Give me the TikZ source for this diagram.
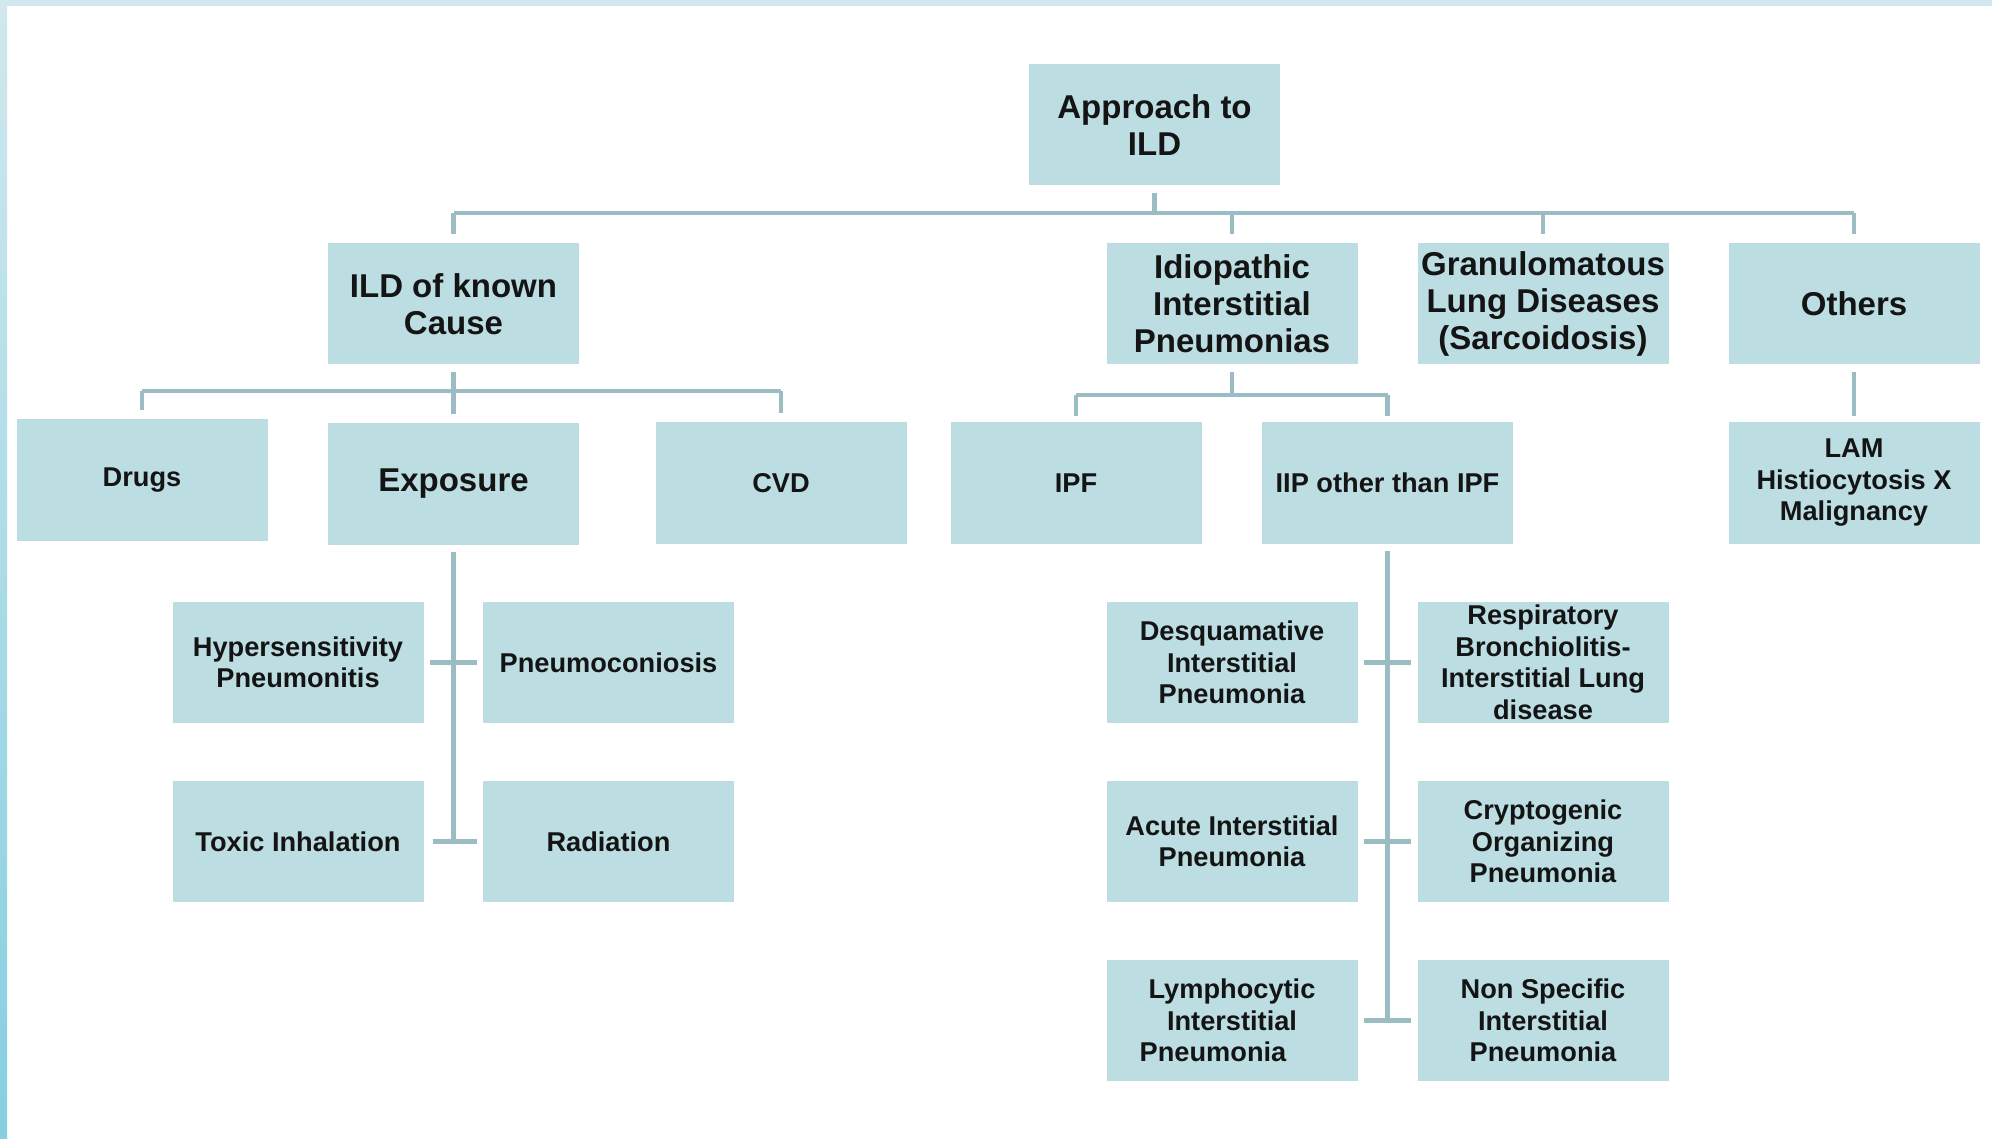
\documentclass[tikz,border=0pt]{standalone}
\usepackage{fontspec}
\setmainfont{Liberation Sans}
\definecolor{boxfill}{HTML}{BCDEE3}
\definecolor{linkc}{HTML}{9BBCC3}
\definecolor{ink}{HTML}{141414}
\definecolor{framehi}{HTML}{D0E8EE}
\definecolor{framelo}{HTML}{86CFE0}
\begin{document}
\begin{tikzpicture}[x=1pt,y=-1pt,
  box/.style={fill=boxfill, minimum width=251pt, minimum height=121pt,
    inner sep=1pt, align=center, text=ink,
    font=\fontsize{27.2}{31.5}\selectfont\bfseries},
  big/.style={font=\fontsize{33}{37}\selectfont\bfseries},
  link/.style={draw=linkc, line width=4.5pt}]

\useasboundingbox (0,0) rectangle (1992,1139);
\fill[white] (0,0) rectangle (1992,1139);

% page frame: thin strips along the top and left edges
\fill[framehi] (0,0) rectangle (1992,6);
\shade[top color=framehi, bottom color=framelo] (0,0) rectangle (7,1139);

% root
\node[box,big] (approach) at (1154.5,125) {Approach to\\ILD};

% first level
\node[box,big] (known)  at (453.5,304) {ILD of known\\Cause};
\node[box,big] (iip)    at (1232,304)  {Idiopathic\\Interstitial\\Pneumonias};
\node[box,big] (gran)   at (1543,304)  {Granulomatous\\Lung Diseases\\(Sarcoidosis)};
\node[box,big] (others) at (1854,304)  {Others};

% second level
\node[box] (drugs)    at (142,480)     {Drugs};
\node[box,big] (exposure) at (453.5,484) {Exposure};
\node[box] (cvd)      at (781,483)     {CVD};
\node[box] (ipf)      at (1076,483)    {IPF};
\node[box] (iipother) at (1387.5,483)  {IIP other than IPF};
\node[box] (lam)      at (1854,483)    {LAM\\Histiocytosis X\\Malignancy};

% exposure subtypes
\node[box] (hyper)  at (298,662.5)   {Hypersensitivity\\Pneumonitis};
\node[box] (pneumo) at (608.5,662.5) {Pneumoconiosis};
\node[box] (toxic)  at (298,841.5)   {Toxic Inhalation};
\node[box] (rad)    at (608.5,841.5) {Radiation};

% IIP subtypes
\node[box] (dip)  at (1232,662.5)  {Desquamative\\Interstitial\\Pneumonia};
\node[box] (rbild) at (1543,662.5) {Respiratory\\Bronchiolitis-\\Interstitial Lung\\disease};
\node[box] (aip)  at (1232,841.5)  {Acute Interstitial\\Pneumonia};
\node[box] (cop)  at (1543,841.5)  {Cryptogenic\\Organizing\\Pneumonia};
\node[box] (lip)  at (1232,1020.5) {Lymphocytic\\Interstitial\\Pneumonia\hspace*{38pt}};
\node[box] (nsip) at (1543,1020.5) {Non Specific\\Interstitial\\Pneumonia};

% bus levels
\coordinate (busA) at (0,213);
\coordinate (busK) at (0,391);
\coordinate (busI) at (0,395);

% root to first level
\draw[link] ([yshift=-7pt]approach.south) -- (approach.south |- busA);
\draw[link] (known.north |- busA) -- (others.north |- busA);
\foreach \n in {known,iip,gran,others}
  \draw[link] (\n.north |- busA) -- ([yshift=9pt]\n.north);

% known cause to its groups
\draw[link] ([yshift=-7pt]known.south) -- (known.south |- busK);
\draw[link] (drugs.north |- busK) -- (cvd.north |- busK);
\foreach \n in {drugs,exposure,cvd}
  \draw[link] (\n.north |- busK) -- ([yshift=9pt]\n.north);

% idiopathic to IPF / other IIP
\draw[link] ([yshift=-7pt]iip.south) -- (iip.south |- busI);
\draw[link] (ipf.north |- busI) -- (iipother.north |- busI);
\foreach \n in {ipf,iipother}
  \draw[link] (\n.north |- busI) -- ([yshift=6pt]\n.north);

% others to LAM
\draw[link] ([yshift=-7pt]others.south) -- ([yshift=6pt]lam.north);

% exposure spine
\draw[link] ([yshift=-7pt]exposure.south) -- (exposure.south |- toxic.east);
\draw[link] ([xshift=6pt]hyper.east) -- ([xshift=-6pt]pneumo.west);
\draw[link] ([xshift=9pt]toxic.east) -- ([xshift=-6pt]rad.west);

% other-IIP spine
\draw[link] ([yshift=-7pt]iipother.south) -- (iipother.south |- lip.east);
\draw[link] ([xshift=6pt]dip.east) -- ([xshift=-6pt]rbild.west);
\draw[link] ([xshift=6pt]aip.east) -- ([xshift=-6pt]cop.west);
\draw[link] ([xshift=6pt]lip.east) -- ([xshift=-6pt]nsip.west);
\end{tikzpicture}
\end{document}
